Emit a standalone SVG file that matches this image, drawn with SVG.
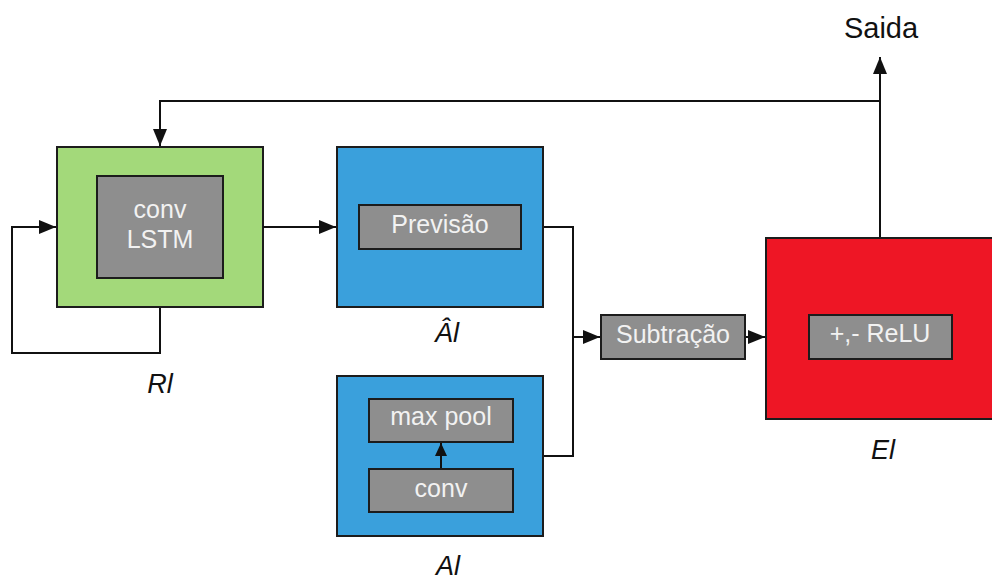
<svg xmlns="http://www.w3.org/2000/svg" width="992" height="580" viewBox="0 0 992 580">
  <style>
    .box { stroke: #1c1c1c; stroke-width: 2; }
    .green { fill: #a3d97a; }
    .blue { fill: #3aa0dc; }
    .red { fill: #ee1625; }
    .gray { fill: #8e8e8e; }
    .inner { font-family: "Liberation Sans", Arial, sans-serif; font-size: 25px; fill: #f2f2f2; text-anchor: middle; }
    .label { font-family: "Liberation Sans", Arial, sans-serif; font-size: 27px; font-style: italic; fill: #111; text-anchor: middle; }
    .out { font-family: "Liberation Sans", Arial, sans-serif; font-size: 29px; fill: #111; text-anchor: middle; }
    .wire { fill: none; stroke: #111; stroke-width: 2; }
  </style>
  <defs>
    <marker id="arrow" markerUnits="userSpaceOnUse" markerWidth="18" markerHeight="14" refX="17" refY="7" orient="auto">
      <path d="M0,0 L17,7 L0,14 Z" fill="#111"/>
    </marker>
    <marker id="arrow-small" markerUnits="userSpaceOnUse" markerWidth="14" markerHeight="12" refX="13" refY="6" orient="auto">
      <path d="M0,0 L13,6 L0,12 Z" fill="#111"/>
    </marker>
  </defs>

  <rect width="992" height="580" fill="#ffffff"/>

  <!-- recurrent unit -->
  <g id="R">
    <rect class="box green" x="57" y="147" width="206" height="160"/>
    <rect class="box gray" x="97" y="176" width="126" height="102"/>
    <text class="inner" x="160" y="218">conv</text>
    <text class="inner" x="160" y="248">LSTM</text>
    <text class="label" x="160" y="393">Rl</text>
  </g>

  <!-- prediction unit -->
  <g id="Ahat">
    <rect class="box blue" x="337" y="147" width="206" height="160"/>
    <rect class="box gray" x="359" y="205" width="162" height="44"/>
    <text class="inner" x="440" y="233">Previsão</text>
    <text class="label" x="447" y="342">Âl</text>
  </g>

  <!-- input unit -->
  <g id="A">
    <rect class="box blue" x="337" y="376" width="206" height="160"/>
    <rect class="box gray" x="369" y="399" width="144" height="43"/>
    <text class="inner" x="441" y="425">max pool</text>
    <rect class="box gray" x="369" y="469" width="144" height="43"/>
    <text class="inner" x="441" y="497">conv</text>
    <text class="label" x="448" y="575">Al</text>
  </g>

  <!-- subtraction -->
  <g id="Sub">
    <rect class="box gray" x="601" y="315" width="144" height="44"/>
    <text class="inner" x="673" y="343">Subtração</text>
  </g>

  <!-- error unit -->
  <g id="E">
    <rect class="box red" x="766" y="238" width="230" height="181"/>
    <rect class="box gray" x="809" y="315" width="143" height="44"/>
    <text class="inner" x="880" y="342">+,- ReLU</text>
    <text class="label" x="883" y="459">El</text>
  </g>

  <!-- output -->
  <g id="Saida">
    <text class="out" x="881" y="38">Saida</text>
  </g>

  <!-- connectors, drawn last so they sit on top of the unit fills -->
  <g id="connectors">
    <path class="wire" d="M263,227 H336" marker-end="url(#arrow)"/>
    <path class="wire" d="M160,308 V353 H12 V227 H56" marker-end="url(#arrow)"/>
    <path class="wire" d="M880,101 H160 V146" marker-end="url(#arrow)"/>
    <path class="wire" d="M880,237 V57" marker-end="url(#arrow)"/>
    <path class="wire" d="M544,227 H573 V456 H544"/>
    <path class="wire" d="M573,337 H600" marker-end="url(#arrow)"/>
    <path class="wire" d="M746,337 H765" marker-end="url(#arrow)"/>
    <path class="wire" d="M441,468 V443" marker-end="url(#arrow-small)"/>
  </g>
</svg>
